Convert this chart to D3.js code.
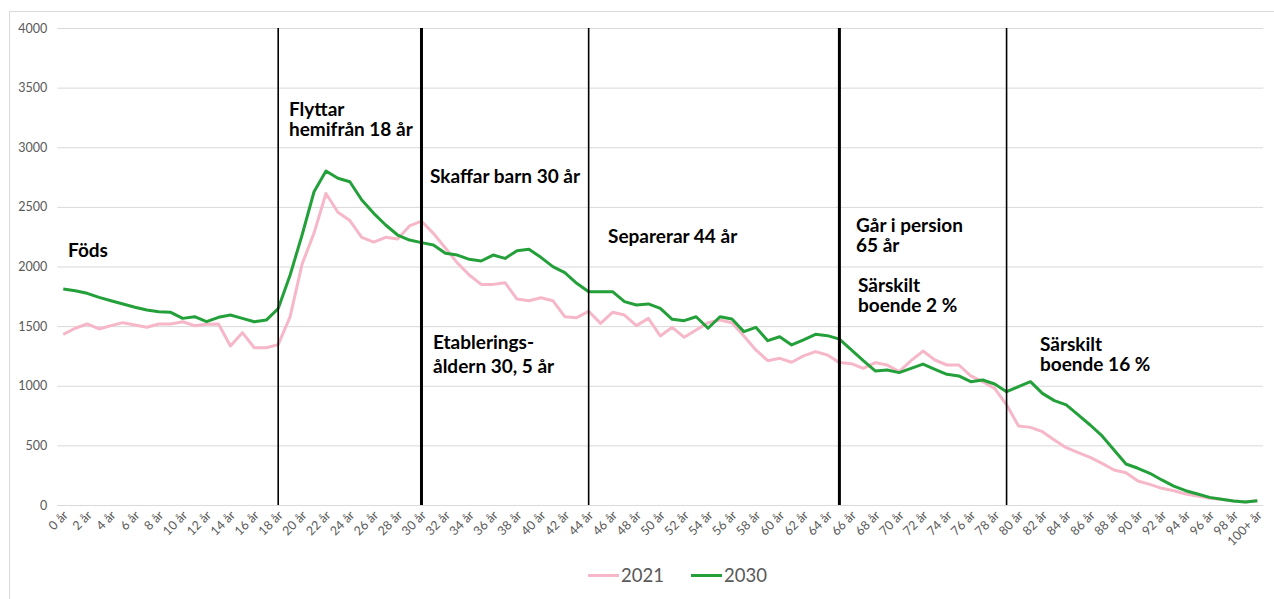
<!DOCTYPE html>
<html lang="sv">
<head>
<meta charset="UTF-8" />
<title>Befolkning per ålder</title>
<script src="https://cdn.jsdelivr.net/npm/d3@7"></script>
<style>
    body { margin: 0; background: #fff; }
    text { font-family: Lato, "Liberation Sans", sans-serif; }
</style>
</head>
<body>
<script>
    // åldersklasser 0 år ... 100+ år
    const ages = d3.range(0, 100).map(d => d + " år").concat(["100+ år"]);

    const pop2021 = [1431, 1482, 1518, 1476, 1504, 1529, 1509, 1490, 1518, 1518,
        1537, 1504, 1515, 1518, 1333, 1445, 1319, 1319, 1345, 1579,
        2020, 2280, 2612, 2455, 2385, 2245, 2205, 2245, 2230, 2340,
        2380, 2278, 2155, 2030, 1929, 1850, 1850, 1864, 1727, 1713,
        1738, 1713, 1579, 1571, 1625, 1523, 1616, 1593, 1504, 1565,
        1417, 1490, 1406, 1468, 1529, 1551, 1529, 1417, 1300, 1210,
        1230, 1197, 1250, 1286, 1258, 1194, 1185, 1146, 1194, 1174,
        1118, 1210, 1291, 1216, 1174, 1174, 1082, 1034, 978, 840,
        662, 651, 615, 545, 481, 439, 400, 349, 294, 271,
        201, 173, 140, 120, 92, 75, 56, 48, 34, 25, 36];

    const pop2030 = [1811, 1797, 1775, 1741, 1713, 1686, 1658, 1635, 1621, 1616,
        1565, 1579, 1537, 1574, 1593, 1565, 1537, 1551, 1647, 1929,
        2264, 2627, 2801, 2740, 2711, 2558, 2446, 2348, 2264, 2222,
        2200, 2180, 2111, 2096, 2060, 2046, 2096, 2068, 2133, 2144,
        2077, 1999, 1948, 1859, 1789, 1789, 1789, 1705, 1677, 1686,
        1649, 1557, 1546, 1579, 1482, 1579, 1560, 1454, 1490, 1378,
        1411, 1342, 1384, 1431, 1420, 1391, 1300, 1210, 1124, 1132,
        1110, 1146, 1182, 1138, 1096, 1082, 1034, 1048, 1015, 950,
        992, 1034, 936, 875, 839, 755, 671, 579, 461, 344,
        308, 266, 210, 159, 120, 92, 64, 48, 34, 25, 36];

    const yTicks = [0, 500, 1000, 1500, 2000, 2500, 3000, 3500, 4000];

    // livshändelser: ålder där linjen dras
    const milestones = ["18 år", "30 år", "44 år", "65 år", "79 år"];
    const thickMilestones = ["30 år", "65 år"];

    const series = [
        { name: "2021", values: pop2021, color: "#f6b7c9" },
        { name: "2030", values: pop2030, color: "#24a03a" }
    ];

    let w = 1274;
    let h = 599;

    let svg = d3.select("body").append("svg")
        .attr("width", w)
        .attr("height", h);

    // ram runt diagrammet
    svg.append("rect")
        .attr("x", 9.5).attr("y", 11.5)
        .attr("width", 1270).attr("height", 600)
        .attr("fill", "none")
        .attr("stroke", "#d9d9d9");

    let x = d3.scalePoint()
        .domain(ages)
        .range([57.3, 1263.3])
        .padding(0.5);

    let y = d3.scaleLinear()
        .domain([0, 4000])
        .range([505, 28]);

    // rutnät + y-axel
    let yAxis = svg.append("g")
        .attr("transform", "translate(57.3,0)")
        .call(d3.axisLeft(y).tickValues(yTicks).tickSize(-1206).tickFormat(d3.format("d")));
    yAxis.select(".domain").remove();
    yAxis.selectAll(".tick line").attr("stroke", "#d9d9d9").attr("stroke-width", 1);
    yAxis.selectAll(".tick text")
        .attr("x", -10)
        .attr("fill", "#595959")
        .style("font-size", "12.5px")
        .style("font-family", "Lato, sans-serif");

    // x-axel, etikett varannan ålder
    let xAxis = svg.append("g")
        .attr("transform", "translate(0,505)")
        .call(d3.axisBottom(x).tickValues(ages.filter((d, i) => i % 2 === 0)).tickSize(0));
    xAxis.select(".domain").remove();
    xAxis.selectAll(".tick text")
        .attr("fill", "#595959")
        .style("font-size", "12.5px")
        .style("font-family", "Lato, sans-serif")
        .attr("text-anchor", "end")
        .attr("dy", null)
        .attr("y", 0)
        .attr("transform", "translate(5,11) rotate(-45)");

    // linjerna
    let line = d3.line()
        .x((d, i) => x(ages[i]))
        .y(d => y(d));

    svg.selectAll(".serie")
        .data(series)
        .enter().append("path")
        .attr("class", "serie")
        .attr("d", d => line(d.values))
        .attr("fill", "none")
        .attr("stroke", d => d.color)
        .attr("stroke-width", 3)
        .attr("stroke-linejoin", "round");

    // vertikala markeringar
    svg.selectAll(".milstolpe")
        .data(milestones)
        .enter().append("line")
        .attr("class", "milstolpe")
        .attr("x1", d => x(d)).attr("x2", d => x(d))
        .attr("y1", y(4000)).attr("y2", y(0))
        .attr("stroke", "#000")
        .attr("stroke-width", d => thickMilestones.includes(d) ? 3 : 1.6);

    // texter
    const notes = [
        { lines: ["Föds"], x: 68, y: 257 },
        { lines: ["Flyttar", "hemifrån 18 år"], x: 289, y: 116 },
        { lines: ["Skaffar barn 30 år"], x: 430, y: 183 },
        { lines: ["Separerar 44 år"], x: 608, y: 243 },
        { lines: ["Etablerings-", "åldern 30, 5 år"], x: 433, y: 349, lh: 23.5 },
        { lines: ["Går i persion", "65 år"], x: 856, y: 232 },
        { lines: ["Särskilt", "boende 2 %"], x: 858, y: 292 },
        { lines: ["Särskilt", "boende 16 %"], x: 1040, y: 351 }
    ];

    notes.forEach(n => {
        let t = svg.append("text")
            .attr("x", n.x).attr("y", n.y)
            .attr("fill", "#000")
            .style("font-size", "19px")
            .style("font-weight", "bold");
        n.lines.forEach((l, i) => {
            t.append("tspan")
                .attr("x", n.x)
                .attr("dy", i === 0 ? 0 : (n.lh || 20))
                .text(l);
        });
    });

    // förklaring
    let legend = svg.append("g");
    let lx = [588, 691];
    series.forEach((s, i) => {
        legend.append("line")
            .attr("x1", lx[i]).attr("x2", lx[i] + 31)
            .attr("y1", 575.5).attr("y2", 575.5)
            .attr("stroke", s.color)
            .attr("stroke-width", 3);
        legend.append("text")
            .attr("x", lx[i] + 33).attr("y", 582)
            .attr("fill", "#595959")
            .style("font-size", "18.5px")
            .text(s.name);
    });
</script>
</body>
</html>
